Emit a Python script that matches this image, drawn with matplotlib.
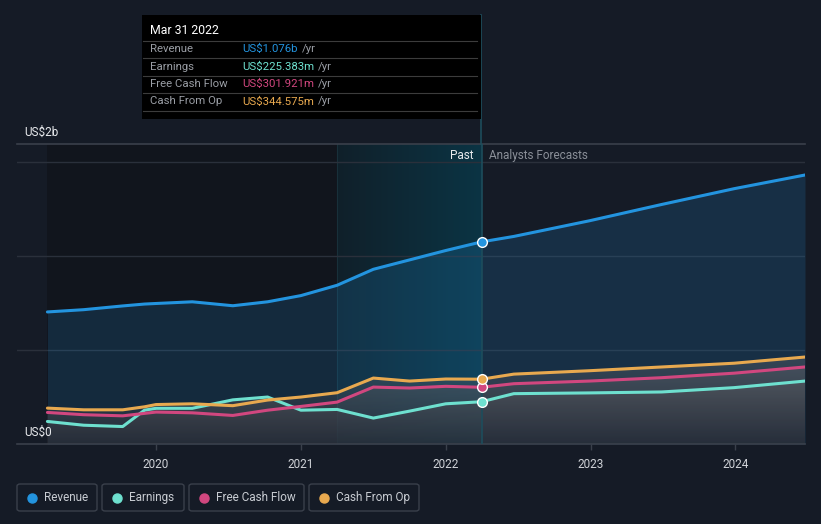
import numpy as np
import matplotlib.pyplot as plt
from matplotlib.patches import Rectangle, FancyBboxPatch, PathPatch
from matplotlib.lines import Line2D
from matplotlib.path import Path
from matplotlib.colors import LinearSegmentedColormap

plt.rcParams['font.family'] = ['Roboto', 'DejaVu Sans']

# data, in US$ billions, decimal years
past_t = [2019.25, 2019.5, 2019.77, 2019.92, 2020.0, 2020.25, 2020.53, 2020.77,
          2021.0, 2021.25, 2021.5, 2021.75, 2022.0, 2022.247]
revenue_past = [0.703, 0.715, 0.735, 0.745, 0.748, 0.757, 0.736, 0.757,
                0.790, 0.845, 0.930, 0.980, 1.030, 1.076]
earnings_past = [0.120, 0.100, 0.093, 0.180, 0.190, 0.190, 0.235, 0.250,
                 0.180, 0.184, 0.138, 0.175, 0.214, 0.225]
fcf_past = [0.168, 0.156, 0.150, 0.163, 0.170, 0.166, 0.152, 0.180,
            0.200, 0.223, 0.303, 0.298, 0.307, 0.302]
cfo_past = [0.191, 0.182, 0.182, 0.198, 0.210, 0.214, 0.204, 0.234,
            0.250, 0.273, 0.351, 0.335, 0.346, 0.345]

fc_t = [2022.247, 2022.47, 2022.99, 2023.49, 2023.99, 2024.48]
revenue_fc = [1.076, 1.105, 1.188, 1.275, 1.359, 1.432]
earnings_fc = [0.225, 0.268, 0.272, 0.277, 0.300, 0.335]
fcf_fc = [0.302, 0.321, 0.335, 0.353, 0.377, 0.410]
cfo_fc = [0.345, 0.372, 0.390, 0.410, 0.430, 0.463]

years = [2020, 2021, 2022, 2023, 2024]
names = ['Revenue', 'Earnings', 'Free Cash Flow', 'Cash From Op']
colors = ['#2394df', '#6ee0cf', '#d1477f', '#e8a94f']
tip_values = ['US$1.076b', 'US$225.383m', 'US$301.921m', 'US$344.575m']

BG = '#151b26'
W, H = 821, 524

fig = plt.figure(figsize=(W / 100, H / 100), dpi=100, facecolor=BG)
ax = fig.add_axes([17 / W, 1 - 444 / H, 788 / W, 300 / H])
ax.set_facecolor(BG)


def px(x, y):
    return x / W, 1 - y / H


t_all = np.array(past_t + fc_t[1:])
rev = np.array(revenue_past + revenue_fc[1:])
ern = np.array(earnings_past + earnings_fc[1:])
fcf = np.array(fcf_past + fcf_fc[1:])
cfo = np.array(cfo_past + cfo_fc[1:])

x0, x1 = 2019.04, 2024.48
ymax = 1.597
now = past_t[-1]

# darker past background
ax.axvspan(past_t[0], 2021.25, color='#11151d', zorder=0, lw=0)
# highlighted last year gradient
grad = np.linspace(0, 1, 256).reshape(1, -1)
cm = LinearSegmentedColormap.from_list('hl', ['#10202a', '#0b3444'])
ax.imshow(grad, extent=[2021.25, now, 0, ymax], aspect='auto', cmap=cm, zorder=0.5)
ax.axvline(2021.25, color='#18303a', lw=0.8, zorder=0.6)

# grid lines
for g in [0.5, 1.0, 1.5]:
    ax.axhline(g, color='#2a303b', lw=1, zorder=1)
ax.axhline(ymax, color='#3a404b', lw=1.2, zorder=1, clip_on=False)

# revenue fill
ax.fill_between(t_all, 0, rev, color='#2394df', alpha=0.17, lw=0, zorder=2)

# gray gradient fill under the lower series
gcm = LinearSegmentedColormap.from_list('g', ['#2c2f38', '#6e6f74'])
for ser, a in [(cfo, 0.35), (fcf, 0.35), (ern, 0.5)]:
    verts = list(zip(t_all, ser)) + [(t_all[-1], 0), (t_all[0], 0)]
    clip = PathPatch(Path(verts), transform=ax.transData, facecolor='none', lw=0)
    ax.add_patch(clip)
    im = ax.imshow(np.linspace(0, 1, 256).reshape(-1, 1)[::-1],
                   extent=[t_all[0], t_all[-1], 0, 0.47],
                   aspect='auto', cmap=gcm, alpha=a, zorder=2.2, origin='upper')
    im.set_clip_path(clip)
ax.set_xlim(x0, x1)
ax.set_ylim(0, ymax)

# present line inside the axes
ax.axvline(now, color='#1d4d5c', lw=1.2, zorder=3)

for ser, c in zip([rev, ern, fcf, cfo], colors):
    ax.plot(t_all, ser, color=c, lw=2.2, zorder=4, solid_capstyle='round')

# markers at Mar 31 2022
for ser, c in zip([revenue_past, earnings_past, fcf_past, cfo_past], colors):
    ax.plot(now, ser[-1], 'o', ms=7, mfc=c, mec='white', mew=1, zorder=6)

# axes styling
for s in ['top', 'right', 'left']:
    ax.spines[s].set_visible(False)
ax.spines['bottom'].set_color('#3a404b')
ax.spines['bottom'].set_linewidth(1.2)
ax.set_yticks([])
ax.set_xticks(years)
ax.set_xticklabels([str(y) for y in years])
ax.tick_params(axis='x', colors='#3a404b', length=4, width=1, labelcolor='#d0d3d8',
               labelsize=8.5, pad=6)

# y labels
fig.text(*px(24, 132), 'US$2b', color='#e8eaed', fontsize=8.5, va='center')
fig.text(*px(24, 432), 'US$0', color='#e8eaed', fontsize=8.5, va='center')

# Past / Analysts Forecasts
fig.text(*px(473, 156), 'Past', color='#e8eaed', fontsize=8.5, va='center', ha='right')
fig.text(*px(489, 156), 'Analysts Forecasts', color='#8a8f98', fontsize=8.5, va='center')

# present line above the axes, up to the tooltip
fig.add_artist(Line2D([481 / W, 481 / W], [1 - 15 / H, 1 - 144 / H], color='#1d4d5c', lw=1.2))

# tooltip
fig.add_artist(Rectangle(px(142, 119), 339 / W, 104 / H, facecolor='black', edgecolor='none', zorder=6))
fig.text(*px(150, 31), 'Mar 31 2022', color='white', fontsize=8.8, va='center', zorder=7)
for yy in [41, 58, 76, 93, 111]:
    fig.add_artist(Line2D([143 / W, 477 / W], [1 - yy / H] * 2, color='#3c3c3c', lw=0.8, zorder=7))
fig.canvas.draw()
for i, (n, v, c) in enumerate(zip(names, tip_values, colors)):
    yy = 49 + i * 17.5
    fig.text(*px(150, yy), n, color='#9a9ea5', fontsize=8.2, va='center', zorder=7)
    t = fig.text(*px(242, yy), v, color=c, fontsize=8.2, va='center', zorder=7)
    bb = t.get_window_extent(renderer=fig.canvas.get_renderer())
    fig.text((bb.x1 + 4) / W, 1 - yy / H, '/yr', color='#9a9ea5', fontsize=8.2, va='center', zorder=7)

# legend boxes
boxes = [(17, 97), (102, 184), (189, 304), (309, 419)]
for (bx0, bx1), n, c in zip(boxes, names, colors):
    fig.add_artist(FancyBboxPatch(px(bx0, 511), (bx1 - bx0) / W, 27 / H,
                                  boxstyle='round,pad=0,rounding_size=0.004',
                                  facecolor='none', edgecolor='#3a404b', lw=1))
    fig.add_artist(Line2D([(bx0 + 15) / W], [1 - 497.5 / H], marker='o', ms=6.5, color=c, mec=c))
    fig.text(*px(bx0 + 27, 497.5), n, color='#c8ccd2', fontsize=8.5, va='center')

fig.savefig('out.png', dpi=100, facecolor=BG)
